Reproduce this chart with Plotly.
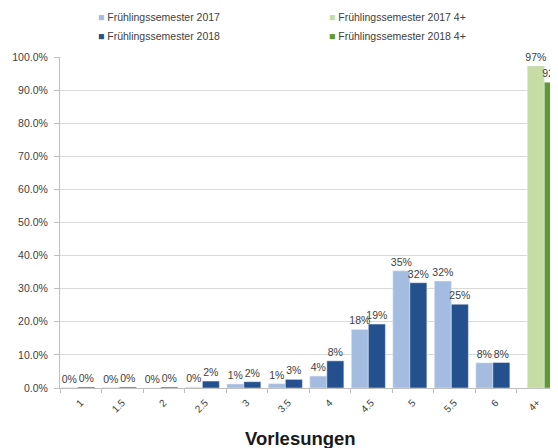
import plotly.graph_objects as go

# Anteil der Studierenden je Anzahl Vorlesungen
categories = ["1", "1.5", "2", "2.5", "3", "3.5", "4", "4.5", "5", "5.5", "6", "4+"]
fs2017 = [0.001, 0.001, 0.000, 0.002, 0.012, 0.013, 0.036, 0.177, 0.354, 0.323, 0.076, None]
fs2018 = [0.003, 0.003, 0.003, 0.021, 0.019, 0.026, 0.082, 0.193, 0.318, 0.253, 0.077, None]
fs2017_4p = [None] * 11 + [0.973]
fs2018_4p = [None] * 11 + [0.924]

series = [
    ("Frühlingssemester 2017", fs2017, "#a3bce0", -0.48, 1),
    ("Frühlingssemester 2018", fs2018, "#24508e", -0.07, 3),
    ("Frühlingssemester 2017 4+", fs2017_4p, "#c5dca5", -0.24, 2),
    ("Frühlingssemester 2018 4+", fs2018_4p, "#5e9a2d", 0.17, 4),
]

GRAY = "#404040"
FONT = "Liberation Sans"
BAR_W = 0.41

fig = go.Figure()
for name, vals, col, off, rank in series:
    fig.add_trace(go.Bar(
        x=categories, y=vals, name=name, marker_color=col,
        width=BAR_W, offset=off, showlegend=False,
        texttemplate="%{y:.0%}", textposition="outside",
        constraintext="none", cliponaxis=False,
        textfont=dict(size=10.5, color=GRAY, family=FONT),
    ))
    # legend-only entry; the coloured square sits in the label so it hugs the text
    fig.add_trace(go.Scatter(
        x=[None], y=[None], mode="markers", legendrank=rank,
        name=f'<span style="color:{col}">■</span> {name}',
        marker=dict(symbol="square", size=1, color="rgba(0,0,0,0)"),
    ))

# the page body adds an 8px offset, so the figure is 8px smaller and margins shifted
fig.update_layout(
    width=550, height=440,
    margin=dict(l=52, r=0, t=49, b=60, autoexpand=False),
    paper_bgcolor="white", plot_bgcolor="white",
    barmode="overlay",
    font=dict(family=FONT, color=GRAY, size=10),
    legend=dict(
        orientation="h", x=-0.004, xanchor="left", y=1.166, yanchor="top",
        entrywidth=186, entrywidthmode="pixels", itemwidth=30,
        font=dict(size=10.5, color=GRAY, family=FONT),
        tracegroupgap=0, bgcolor="rgba(0,0,0,0)",
    ),
    xaxis=dict(
        type="category", range=[-0.5, 11.5], automargin=False,
        tickangle=-45, tickfont=dict(size=10, color=GRAY),
        ticks="outside", tickson="boundaries", ticklen=4, ticklabelstandoff=4,
        tickcolor="#bfbfbf",
        showline=True, linecolor="#bfbfbf", showgrid=False,
    ),
    yaxis=dict(
        range=[0, 1.0], dtick=0.1, tickformat=".1%", automargin=False,
        tickfont=dict(size=10.5, color=GRAY),
        ticks="outside", ticklen=5, ticklabelstandoff=4, tickcolor="#bfbfbf",
        showline=True, linecolor="#bfbfbf",
        showgrid=True, gridcolor="#d9d9d9", zeroline=False,
    ),
    annotations=[dict(
        text="<b>Vorlesungen</b>", xref="paper", yref="paper",
        x=0.482, y=0, xanchor="center", yanchor="top", yshift=-38,
        showarrow=False, font=dict(size=18.5, color="#1a1a1a", family=FONT),
    )],
)

fig.write_html("out.html")
